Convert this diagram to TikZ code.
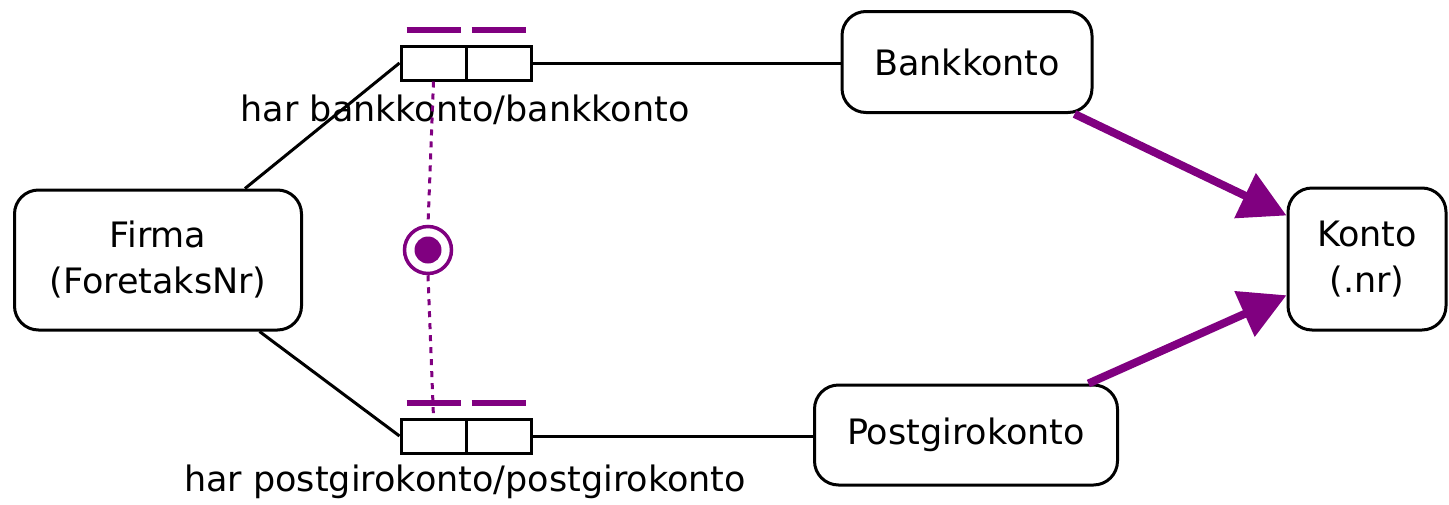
\documentclass[tikz,border=0pt]{standalone}
\usepackage{fontspec}
\setmainfont{DejaVu Sans}
\usetikzlibrary{arrows.meta,calc}
\definecolor{violet}{RGB}{128,0,128}
\tikzset{
  ent/.style={draw=black, line width=3pt, rounded corners=24pt, fill=white, align=center, font=\fontsize{35}{46}\selectfont, inner sep=0pt},
  cell/.style={draw=black, line width=3pt, minimum width=65pt, minimum height=34pt, inner sep=0pt},
  conn/.style={draw=black, line width=3pt},
  isa/.style={draw=violet, line width=8pt, -{Triangle[length=46pt,width=48pt]}},
  uniq/.style={draw=violet, line width=6pt},
  lbl/.style={font=\fontsize{35}{42}\selectfont, inner sep=0pt},
  dotl/.style={draw=violet, line width=3pt, dash pattern=on 6pt off 6pt},
}
\begin{document}
\begin{tikzpicture}[x=1pt,y=-1pt]
\useasboundingbox (0,0) rectangle (1449,504);
% entities
\node[ent, minimum width=287pt, minimum height=140pt] (firma) at (158,260) {Firma\\(ForetaksNr)};
\node[ent, minimum width=250pt, minimum height=101pt] (bank) at (967,62) {Bankkonto};
\node[ent, minimum width=303pt, minimum height=100pt] (post) at (966,435) {Postgirokonto};
\node[ent, minimum width=158pt, minimum height=142pt] (konto) at (1367,259) {Konto\\(.nr)};
% role boxes
\node[cell] (b1) at (433.5,63) {};
\node[cell] (b2) at (498.5,63) {};
\node[cell] (p1) at (433.5,436) {};
\node[cell] (p2) at (498.5,436) {};
% labels
\node[lbl] (lb) at (465,110) {har bankkonto/bankkonto};
\node[lbl] (lp) at (465,482) {har postgirokonto/postgirokonto};
% uniqueness bars
\draw[uniq] ($(b1.north west)+(7,-15)$) -- ($(b1.north east)+(-7,-15)$);
\draw[uniq] ($(b2.north west)+(7,-15)$) -- ($(b2.north east)+(-7,-15)$);
\draw[uniq] ($(p1.north west)+(7,-15)$) -- ($(p1.north east)+(-7,-15)$);
\draw[uniq] ($(p2.north west)+(7,-15)$) -- ($(p2.north east)+(-7,-15)$);
% connectors
\draw[conn] ($(firma.north)!0.6!(firma.north east)$) -- (b1.west);
\draw[conn] ($(firma.south)!0.7!(firma.south east)$) -- (p1.west);
\draw[conn] (b2.east) -- (bank.west |- b2.east);
\draw[conn] (p2.east) -- (post.west |- p2.east);
% exclusion constraint
\node[circle, draw=violet, line width=3.5pt, minimum size=47pt, inner sep=0pt, fill=white] (xc) at (428,250) {};
\node[circle, fill=violet, minimum size=27pt, inner sep=0pt] (xcd) at (xc.center) {};
\draw[dotl] (b1.south) -- (xc.north);
\draw[dotl] (xc.south) -- (p1.north);
% subtype arrows
\draw[isa] ($(bank.south)!0.85!(bank.south east)$) -- ($(konto.north west)!0.2!(konto.south west)$);
\draw[isa] ($(post.north)!0.8!(post.north east)$) -- ($(konto.north west)!0.75!(konto.south west)$);
\end{tikzpicture}
\end{document}
